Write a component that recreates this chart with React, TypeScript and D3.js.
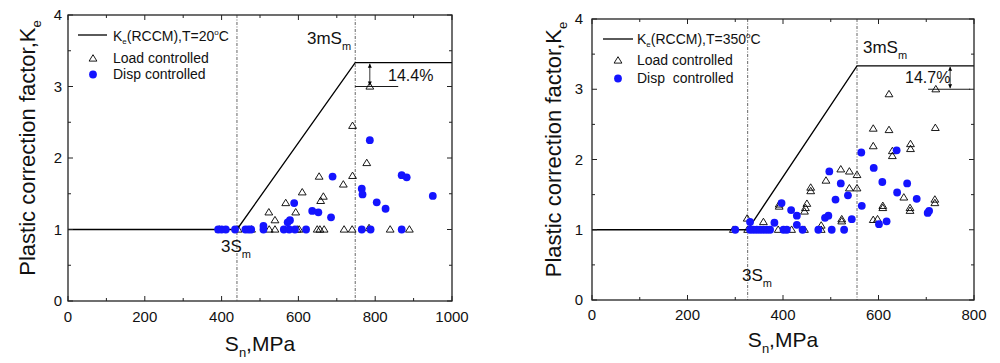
import React from 'react';
import * as d3 from 'd3';

// ---------- data ----------
// Left panel (T = 20°C)
const leftCurve: [number, number][] = [[0, 1], [440, 1], [748, 3.333], [1000, 3.333]];
const leftVLines = [440, 748];
const leftLoad: [number, number][] = [
  [394, 1], [443, 1], [478, 1], [524, 1], [539, 1], [597, 1], [602, 1], [649, 1], [656, 1], [667, 1],
  [719, 1], [740, 1], [784, 1.02], [839, 1], [889, 1],
  [523, 1.24], [539, 1.13], [567, 1.37], [593, 1.24], [610, 1.52], [654, 1.74], [658, 1.40], [665, 1.46],
  [717, 1.63], [741, 1.75], [741, 2.45], [778, 1.93], [786, 3.0],
];
const leftDisp: [number, number][] = [
  [391, 1], [400, 1], [411, 1], [435, 1], [462, 1], [470, 1], [477, 1], [509, 1], [562, 1], [576, 1],
  [591, 1], [620, 1], [765, 1], [788, 1], [869, 1],
  [509, 1.05], [572, 1.10], [578, 1.13], [589, 1.37], [636, 1.26], [652, 1.24], [685, 1.17], [689, 1.74],
  [765, 1.57], [767, 1.49], [786, 2.25], [804, 1.38], [827, 1.29], [869, 1.76], [882, 1.73], [950, 1.47],
];

// Right panel (T = 350°C)
const rightCurve: [number, number][] = [[0, 1], [326, 1], [555, 3.333], [800, 3.333]];
const rightVLines = [326, 555];
const rightLoad: [number, number][] = [
  [296, 1], [326, 1], [390, 1], [418, 1], [445, 1], [480, 1],
  [325, 1.16], [359, 1.11], [392, 1.36], [392, 1.33], [450, 1.37], [447, 1.31], [445, 1.26], [458, 1.60],
  [458, 1.55], [490, 1.70], [480, 1.06], [521, 1.86], [539, 1.83], [555, 1.78], [539, 1.59], [555, 1.59],
  [523, 1.15], [523, 1.12], [589, 1.14], [598, 1.15], [609, 1.34], [609, 1.31], [653, 1.46], [666, 1.31],
  [666, 1.27], [718, 1.43], [718, 1.38], [589, 2.44], [589, 2.19], [622, 2.93], [622, 2.42], [629, 2.12],
  [629, 2.05], [667, 2.22], [667, 2.15], [719, 2.45], [720, 3.0],
];
const rightDisp: [number, number][] = [
  [300, 1], [331, 1], [338, 1], [345, 1], [352, 1], [359, 1], [366, 1], [373, 1], [401, 1], [408, 1],
  [441, 1], [474, 1], [502, 1], [528, 1],
  [331, 1.11], [382, 1.10], [397, 1.38], [417, 1.28], [429, 1.20], [429, 1.07], [488, 1.17], [495, 1.20],
  [497, 1.83], [510, 1.43], [521, 1.66], [536, 1.49], [544, 1.15], [564, 2.10], [565, 1.34], [590, 1.88],
  [601, 1.08], [608, 1.68], [617, 1.12], [639, 1.53], [638, 2.13], [660, 1.66], [680, 1.44], [703, 1.24],
  [706, 1.27],
];

const yTicks = [0, 1, 2, 3, 4];
const leftXTicks = [0, 200, 400, 600, 800, 1000];
const rightXTicks = [0, 200, 400, 600, 800];

const FONT = "'Liberation Sans', Arial, Helvetica, sans-serif";
const BLUE = '#1414ff';

type PanelProps = {
  px0: number; px1: number; py0: number; py1: number;
  xMax: number; xTicks: number[];
  curve: [number, number][]; vlines: number[];
  load: [number, number][]; disp: [number, number][];
  temp: string; dispLabel: string;
  yTitleX: number; xTitleY: number; xTickY: number; yTickGap: number;
  legendLine: [number, number, number]; legendTextX: number; legendBase: number[]; legendMarkX: number;
  mLabel: [number, number]; sLabel: [number, number];
  pct: string; pctPos: [number, number]; arrowX: number; pctLine: [number, number];
};

const tri = (x: number, y: number) => `M${x},${y - 3.8}L${x + 3.9},${y + 2.6}L${x - 3.9},${y + 2.6}Z`;

function Panel(p: PanelProps) {
  const x = d3.scaleLinear().domain([0, p.xMax]).range([p.px0, p.px1]);
  const y = d3.scaleLinear().domain([0, 4]).range([p.py0, p.py1]);
  const line = d3.line<[number, number]>().x(d => x(d[0])).y(d => y(d[1]));
  const xMinor = d3.range(0, p.xMax + 1, 100);
  const yMinor = d3.range(0, 4.01, 0.5);
  const frame = '#222';
  const ticks: JSX.Element[] = [];
  xMinor.forEach((v, i) => {
    const len = v % 200 === 0 ? 5 : 3;
    ticks.push(<line key={'xb' + i} x1={x(v)} x2={x(v)} y1={p.py0} y2={p.py0 - len} stroke={frame} />);
    ticks.push(<line key={'xt' + i} x1={x(v)} x2={x(v)} y1={p.py1} y2={p.py1 + len} stroke={frame} />);
  });
  yMinor.forEach((v, i) => {
    const len = Math.abs(v - Math.round(v)) < 1e-6 ? 5 : 3;
    ticks.push(<line key={'yl' + i} x1={p.px0} x2={p.px0 + len} y1={y(v)} y2={y(v)} stroke={frame} />);
    ticks.push(<line key={'yr' + i} x1={p.px1} x2={p.px1 - len} y1={y(v)} y2={y(v)} stroke={frame} />);
  });
  const ay0 = y(3.333), ay1 = y(3);
  const ax = x(p.arrowX);
  const cy = (p.py0 + p.py1) / 2;
  return (
    <g fontFamily={FONT}>
      {p.vlines.map((v, i) => (
        <line key={'v' + i} x1={x(v)} x2={x(v)} y1={p.py1} y2={p.py0} stroke="#555" strokeWidth={0.9}
          strokeDasharray="3,1.5,1,1.5" />
      ))}
      <path d={line(p.curve) || ''} fill="none" stroke="#000" strokeWidth={1.3} />
      <line x1={x(p.pctLine[0])} x2={x(p.pctLine[1])} y1={ay1} y2={ay1} stroke="#000" strokeWidth={0.9} />
      <line x1={ax} x2={ax} y1={ay0 + 1} y2={ay1 - 1} stroke="#000" strokeWidth={0.8} />
      <path d={`M${ax},${ay0 + 1}L${ax - 2},${ay0 + 5}L${ax + 2},${ay0 + 5}Z`} fill="#000" />
      <path d={`M${ax},${ay1 - 1}L${ax - 2},${ay1 - 5}L${ax + 2},${ay1 - 5}Z`} fill="#000" />
      {p.load.map((d, i) => (
        <path key={'l' + i} d={tri(x(d[0]), y(d[1]))} fill="none" stroke="#000" strokeWidth={0.9} />
      ))}
      {p.disp.map((d, i) => (
        <circle key={'d' + i} cx={x(d[0])} cy={y(d[1])} r={3.9} fill={BLUE} />
      ))}
      <rect x={p.px0} y={p.py1} width={p.px1 - p.px0} height={p.py0 - p.py1} fill="none" stroke={frame} strokeWidth={1.3} />
      {ticks}
      {p.xTicks.map(v => (
        <text key={'xl' + v} x={x(v)} y={p.xTickY} fontSize={15} textAnchor="middle" fill="#111">{v}</text>
      ))}
      {yTicks.map(v => (
        <text key={'yl' + v} x={p.px0 - p.yTickGap} y={y(v) + 5} fontSize={15} textAnchor="end" fill="#111">{v}</text>
      ))}
      <text x={(p.px0 + p.px1) / 2} y={p.xTitleY} fontSize={21} textAnchor="middle" fill="#111">
        S<tspan fontSize={13} dy={6}>n</tspan><tspan dy={-6}>,MPa</tspan>
      </text>
      <text transform={`translate(${p.yTitleX},${cy - 10}) rotate(-90)`} fontSize={22} textAnchor="middle" fill="#111">
        Plastic correction factor,K<tspan fontSize={13} dy={6}>e</tspan>
      </text>
      <line x1={p.legendLine[0]} x2={p.legendLine[1]} y1={p.legendLine[2]} y2={p.legendLine[2]} stroke="#000" strokeWidth={1.3} />
      <text x={p.legendTextX} y={p.legendBase[0]} fontSize={14} fill="#111">
        K<tspan fontSize={8} dy={3}>e</tspan><tspan dy={-3}>(RCCM),T={p.temp}</tspan>
        <tspan fontSize={8} dy={-6}>o</tspan><tspan dy={6}>C</tspan>
      </text>
      <path d={tri(p.legendMarkX, p.legendBase[1] - 4.5)} fill="none" stroke="#000" strokeWidth={0.9} />
      <text x={p.legendTextX} y={p.legendBase[1]} fontSize={14} fill="#111">Load controlled</text>
      <circle cx={p.legendMarkX} cy={p.legendBase[2] - 4.5} r={3.9} fill={BLUE} />
      <text x={p.legendTextX} y={p.legendBase[2]} fontSize={14} fill="#111" style={{ whiteSpace: 'pre' }}>{p.dispLabel}</text>
      <text x={p.mLabel[0]} y={p.mLabel[1]} fontSize={17} fill="#111">
        3mS<tspan fontSize={11} dy={6}>m</tspan>
      </text>
      <text x={p.sLabel[0]} y={p.sLabel[1]} fontSize={17} fill="#111">
        3S<tspan fontSize={11} dy={6}>m</tspan>
      </text>
      <text x={p.pctPos[0]} y={p.pctPos[1]} fontSize={16} fill="#111">{p.pct}</text>
    </g>
  );
}

export default function App() {
  return (
    <svg width={1000} height={363} style={{ position: 'absolute', left: 0, top: 0, background: '#fff' }}>
      <rect width={1000} height={363} fill="#fff" />
      <Panel px0={68} px1={452} py0={301} py1={15} xMax={1000} xTicks={leftXTicks}
        curve={leftCurve} vlines={leftVLines} load={leftLoad} disp={leftDisp}
        temp="20" dispLabel="Disp controlled"
        yTitleX={35} xTitleY={351} xTickY={322} yTickGap={6}
        legendLine={[78, 107, 35]} legendTextX={113} legendBase={[41, 63, 79]} legendMarkX={93}
        mLabel={[307, 44]} sLabel={[221, 252]}
        pct="14.4%" pctPos={[388, 81]} arrowX={786} pctLine={[748, 860]} />
      <Panel px0={592} px1={974} py0={300} py1={19} xMax={800} xTicks={rightXTicks}
        curve={rightCurve} vlines={rightVLines} load={rightLoad} disp={rightDisp}
        temp="350" dispLabel="Disp  controlled"
        yTitleX={561} xTitleY={347} xTickY={320} yTickGap={9}
        legendLine={[603, 633, 39]} legendTextX={637} legendBase={[44, 65, 83]} legendMarkX={618}
        mLabel={[863, 53]} sLabel={[742, 281]}
        pct="14.7%" pctPos={[905, 83]} arrowX={750} pctLine={[704, 792]} />
    </svg>
  );
}
